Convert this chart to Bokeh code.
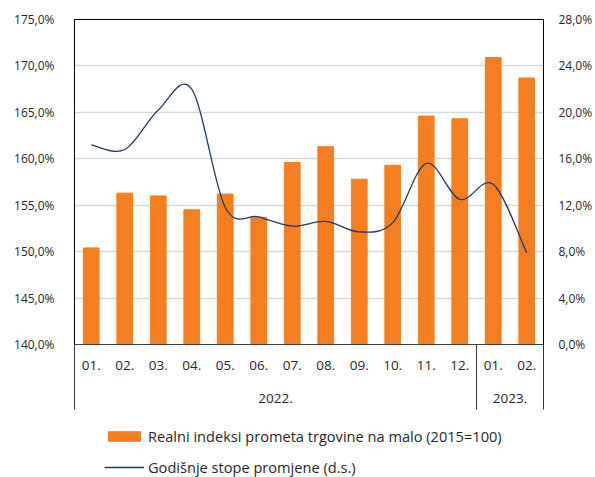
from bokeh.plotting import figure
from bokeh.layouts import column
from bokeh.models import (Range1d, LinearAxis, FixedTicker, Legend, LegendItem,
                          CustomJSTickFormatter)
from bokeh.embed import file_html
from bokeh.resources import INLINE

# ---------------- data ----------------
months = ["01.", "02.", "03.", "04.", "05.", "06.", "07.", "08.", "09.", "10.",
          "11.", "12.", "01.", "02."]
years = ["2022.", "2023."]
year_counts = [12, 2]
index_values = [150.4, 156.3, 156.0, 154.5, 156.2, 153.7, 159.6, 161.3, 157.8,
                159.3, 164.6, 164.3, 170.9, 168.7]
growth_rates = [17.2, 16.8, 20.2, 22.0, 11.8, 11.0, 10.2, 10.6, 9.7, 10.5,
                15.6, 12.5, 13.8, 7.9]
left_ticks = [140, 145, 150, 155, 160, 165, 170, 175]
right_ticks = [0, 4, 8, 12, 16, 20, 24, 28]
bar_label = "Realni indeksi prometa trgovine na malo (2015=100)"
line_label = "Godišnje stope promjene (d.s.)"

ORANGE = "#F47E20"
NAVY = "#1F3864"
FONT = "Open Sans"
TXT = "#262626"

n = len(months)
xs = [i + 0.5 for i in range(n)]

bounds = [0]
for c in year_counts:
    bounds.append(bounds[-1] + c)
year_centers = [(bounds[i] + bounds[i + 1]) / 2 for i in range(len(years))]

p = figure(width=595, height=426, output_backend="svg", toolbar_location=None,
           x_range=Range1d(0, n), y_range=Range1d(left_ticks[0], left_ticks[-1]),
           min_border_left=74, min_border_right=48, min_border_top=19,
           min_border_bottom=82)
p.extra_y_ranges = {"rate": Range1d(right_ticks[0], right_ticks[-1])}
p.outline_line_color = "black"
p.outline_line_width = 1
p.background_fill_color = "white"
p.border_fill_color = "white"

bars = p.vbar(x=xs, top=index_values, bottom=left_ticks[0], width=0.47,
              fill_color=ORANGE, line_color=ORANGE)

# smoothed line: cubic Bezier segments through the data points
x0, y0, x1, y1, cx0, cy0, cx1, cy1 = [], [], [], [], [], [], [], []
for i in range(n - 1):
    pr = i - 1 if i > 0 else i
    nx = i + 2 if i + 2 < n else i + 1
    x0.append(xs[i]); y0.append(growth_rates[i])
    x1.append(xs[i + 1]); y1.append(growth_rates[i + 1])
    cx0.append(xs[i] + (xs[i + 1] - xs[pr]) / 6)
    cy0.append(growth_rates[i] + (growth_rates[i + 1] - growth_rates[pr]) / 6)
    cx1.append(xs[i + 1] - (xs[nx] - xs[i]) / 6)
    cy1.append(growth_rates[i + 1] - (growth_rates[nx] - growth_rates[i]) / 6)
p.bezier(x0=x0, y0=y0, x1=x1, y1=y1, cx0=cx0, cy0=cy0, cx1=cx1, cy1=cy1,
         y_range_name="rate", line_color=NAVY, line_width=1.3)

pct = "return tick.toFixed(1).replace('.', ',') + '%';"

ya = p.yaxis[0]
ya.ticker = FixedTicker(ticks=left_ticks)
ya.formatter = CustomJSTickFormatter(code=pct)
ya.major_tick_line_color = None
ya.minor_tick_line_color = None
ya.axis_line_color = "black"
ya.major_label_standoff = 14
ya.major_label_text_font = FONT
ya.major_label_text_font_size = "12px"
ya.major_label_text_color = TXT

ra = LinearAxis(y_range_name="rate", ticker=FixedTicker(ticks=right_ticks),
                formatter=CustomJSTickFormatter(code=pct))
ra.major_tick_line_color = None
ra.minor_tick_line_color = None
ra.axis_line_color = "black"
ra.major_label_standoff = 9
ra.major_label_text_font = FONT
ra.major_label_text_font_size = "12px"
ra.major_label_text_color = TXT
p.add_layout(ra, "right")

p.xgrid.visible = False
p.ygrid.ticker = FixedTicker(ticks=left_ticks[1:-1])
p.ygrid.grid_line_color = "#d9d9d9"
p.ygrid.grid_line_width = 1.5

# month axis; group separators drawn as long minor ticks
xa = p.xaxis[0]
xa.ticker = FixedTicker(ticks=xs, minor_ticks=bounds)
xa.formatter = CustomJSTickFormatter(args=dict(labels=months),
                                     code="return labels[Math.floor(tick)];")
xa.axis_line_color = "#404040"
xa.axis_line_width = 1.2
xa.major_tick_line_color = None
xa.minor_tick_line_color = "#333333"
xa.minor_tick_in = 0
xa.minor_tick_out = 65
xa.major_label_standoff = -49
xa.major_label_text_font = FONT
xa.major_label_text_font_size = "13.5px"
xa.major_label_text_color = TXT

yr = LinearAxis(ticker=FixedTicker(ticks=year_centers),
                formatter=CustomJSTickFormatter(args=dict(labels=years, b=bounds),
                    code="for (let i = 0; i < labels.length; i++) { if (tick < b[i+1]) return labels[i]; } return '';"))
yr.axis_line_color = None
yr.major_tick_line_color = None
yr.minor_tick_line_color = None
yr.major_label_standoff = 15
yr.major_label_text_font = FONT
yr.major_label_text_font_size = "13.5px"
yr.major_label_text_color = TXT
p.add_layout(yr, "below")

# legend strip below the chart (swatch renderers sit outside the visible range)
lg = figure(width=595, height=51, output_backend="svg", toolbar_location=None,
            x_range=Range1d(0, 1), y_range=Range1d(0, 1),
            x_axis_location=None, y_axis_location=None,
            min_border_left=74, min_border_right=48, min_border_top=0,
            min_border_bottom=0)
lg.outline_line_color = None
lg.grid.visible = False
sw_bar = lg.vbar(x=[-10], top=[-10], bottom=[-11], width=0.5,
                 fill_color=ORANGE, line_color=ORANGE)
sw_line = lg.line(x=[-10, -9], y=[-10, -10], line_color=NAVY, line_width=1.3)
legend = Legend(items=[LegendItem(label=bar_label, renderers=[sw_bar]),
                       LegendItem(label=line_label, renderers=[sw_line])],
                location=(30, 0), orientation="vertical",
                glyph_width=40, glyph_height=12, label_height=18, spacing=11,
                padding=0, margin=0, label_standoff=4,
                label_text_font=FONT, label_text_font_size="14.6px",
                label_text_color=TXT, border_line_color=None,
                background_fill_alpha=0)
lg.add_layout(legend, "center")

layout = column(p, lg, spacing=0)
open("out.html", "w").write(file_html(layout, INLINE))
